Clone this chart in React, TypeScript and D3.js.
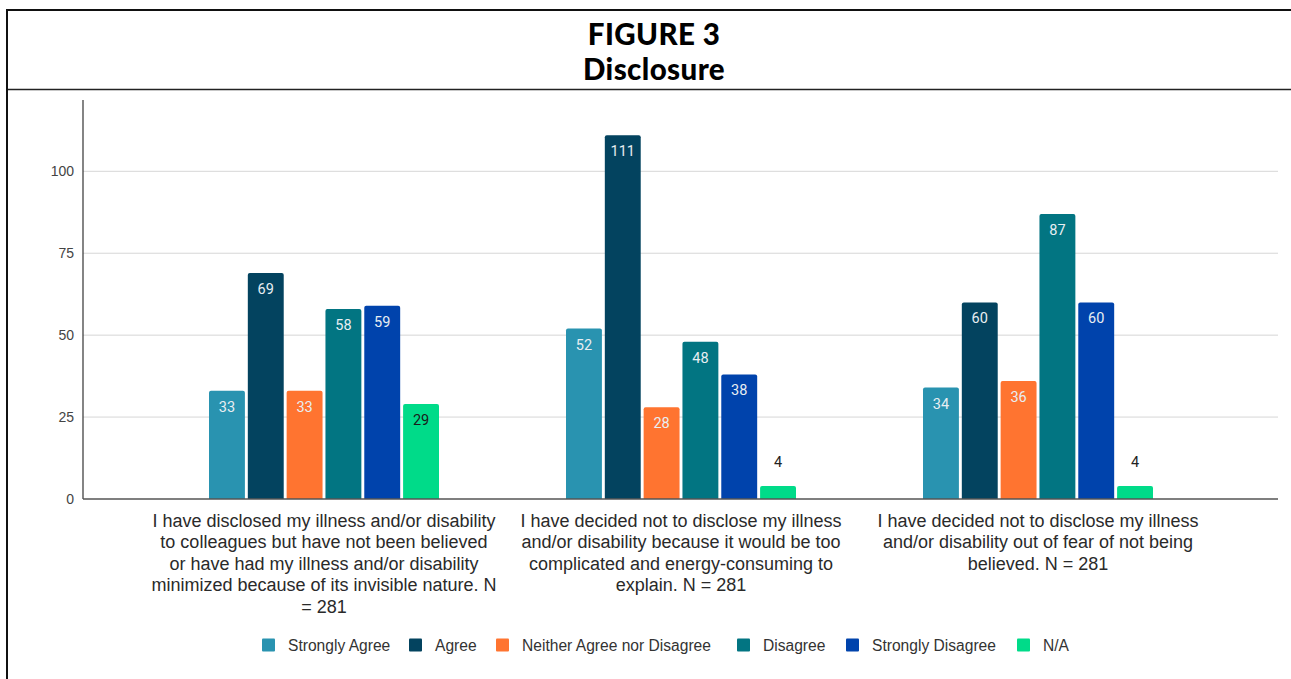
import React from "react";
import * as d3 from "d3";

const WIDTH = 1291;
const HEIGHT = 679;

const categories = [
  "I have disclosed my illness and/or disability\nto colleagues but have not been believed\nor have had my illness and/or disability\nminimized because of its invisible nature. N\n= 281",
  "I have decided not to disclose my illness\nand/or disability because it would be too\ncomplicated and energy-consuming to\nexplain. N = 281",
  "I have decided not to disclose my illness\nand/or disability out of fear of not being\nbelieved. N = 281",
];

const seriesNames = [
  "Strongly Agree",
  "Agree",
  "Neither Agree nor Disagree",
  "Disagree",
  "Strongly Disagree",
  "N/A",
];

const seriesColors = ["#2993b0", "#03435f", "#ff7430", "#027582", "#0043ac", "#00db89"];

const stronglyAgree = [33, 52, 34];
const agree = [69, 111, 60];
const neither = [33, 28, 36];
const disagree = [58, 48, 87];
const stronglyDisagree = [59, 38, 60];
const notApplicable = [29, 4, 4];

const seriesValues = [stronglyAgree, agree, neither, disagree, stronglyDisagree, notApplicable];

const yTicks = [0, 25, 50, 75, 100];

const title = "FIGURE 3";
const subtitle = "Disclosure";

export default function App() {
  const plotLeft = 83;
  const plotRight = 1278;
  const baseY = 499;
  const axisTop = 100;

  const y = d3.scaleLinear().domain([0, 100]).range([baseY, 171.3]);
  const x0 = d3.scaleBand<number>().domain([0, 1, 2]).range([145.5, 1216.5]).paddingInner(0);
  const groupWidth = 230;
  const x1 = d3
    .scaleBand<number>()
    .domain(d3.range(seriesNames.length))
    .range([0, groupWidth])
    .paddingInner(0.075)
    .paddingOuter(0);

  const legendX = [262, 409, 496, 737, 846, 1017];

  const barPath = (x: number, top: number, w: number, r: number) => {
    const h = baseY - top;
    const rr = Math.min(r, h);
    return `M${x},${baseY}V${top + rr}Q${x},${top} ${x + rr},${top}H${x + w - rr}Q${x + w},${top} ${x + w},${top + rr}V${baseY}Z`;
  };

  const sans = "'Liberation Sans', Arial, sans-serif";

  return (
    <div style={{ position: "absolute", left: 0, top: 0 }}>
      <svg width={WIDTH} height={HEIGHT} style={{ display: "block", background: "#fff" }}>
        {/* frame */}
        <line x1={6} x2={WIDTH} y1={10} y2={10} stroke="#111" strokeWidth={2} />
        <line x1={6} x2={WIDTH} y1={89.5} y2={89.5} stroke="#222" strokeWidth={1.5} />
        <line x1={7} x2={7} y1={9} y2={HEIGHT} stroke="#111" strokeWidth={2} />

        {/* title block */}
        <text
          textAnchor="middle"
          fontFamily="Lato, 'Open Sans', sans-serif"
          fontWeight={900}
          fontSize={29.5}
          fill="#000"
          style={{ letterSpacing: "0.4px" }}
        >
          <tspan x={654} y={44.5}>
            {title}
          </tspan>
          <tspan x={654} y={79.5}>
            {subtitle}
          </tspan>
        </text>

        {/* gridlines */}
        {yTicks.slice(1).map((t) => (
          <line key={t} x1={plotLeft} x2={plotRight} y1={y(t)} y2={y(t)} stroke="#d6d6d6" strokeWidth={1} />
        ))}
        {yTicks.map((t) => (
          <text key={"t" + t} x={74} y={y(t) + 5} textAnchor="end" fontFamily={sans} fontSize={14} fill="#444">
            {t}
          </text>
        ))}

        {/* bars */}
        {categories.map((_, ci) => {
          const gx = (x0(ci) as number) + x0.bandwidth() / 2 - groupWidth / 2;
          return (
            <g key={ci}>
              {seriesValues.map((vals, si) => {
                const v = vals[ci];
                const bx = gx + (x1(si) as number);
                const bw = x1.bandwidth();
                const top = y(v);
                const inside = baseY - top > 30;
                const dark = si === 5;
                return (
                  <g key={si}>
                    <path d={barPath(bx, top, bw, 2)} fill={seriesColors[si]} />
                    <text
                      x={bx + bw / 2}
                      y={inside ? top + 21 : top - 19}
                      textAnchor="middle"
                      fontFamily="Roboto, 'Noto Sans', sans-serif"
                      fontSize={14.5}
                      fill={inside ? (dark ? "#1a1a1a" : "#e8eef2") : "#222"}
                    >
                      {v}
                    </text>
                  </g>
                );
              })}
            </g>
          );
        })}

        {/* axes */}
        <line x1={plotLeft} x2={plotLeft} y1={axisTop} y2={baseY} stroke="#333" strokeWidth={1.2} />
        <line x1={plotLeft} x2={plotRight} y1={baseY} y2={baseY} stroke="#555" strokeWidth={1.5} />

        {/* category labels */}
        {categories.map((c, ci) => {
          const cx = (x0(ci) as number) + x0.bandwidth() / 2;
          return (
            <text key={"c" + ci} textAnchor="middle" fontFamily={sans} fontSize={18} fill="#2a2a2a">
              {c.split("\n").map((line, li) => (
                <tspan key={li} x={cx} y={526.5 + li * 21.5}>
                  {line}
                </tspan>
              ))}
            </text>
          );
        })}

        {/* legend */}
        {seriesNames.map((name, si) => (
          <g key={"l" + si} transform={`translate(${legendX[si]},638.5)`}>
            <rect x={0} y={0} width={13} height={13} rx={1} fill={seriesColors[si]} />
            <text x={26} y={12} fontFamily={sans} fontSize={15.6} fill="#333">
              {name}
            </text>
          </g>
        ))}
      </svg>
    </div>
  );
}
